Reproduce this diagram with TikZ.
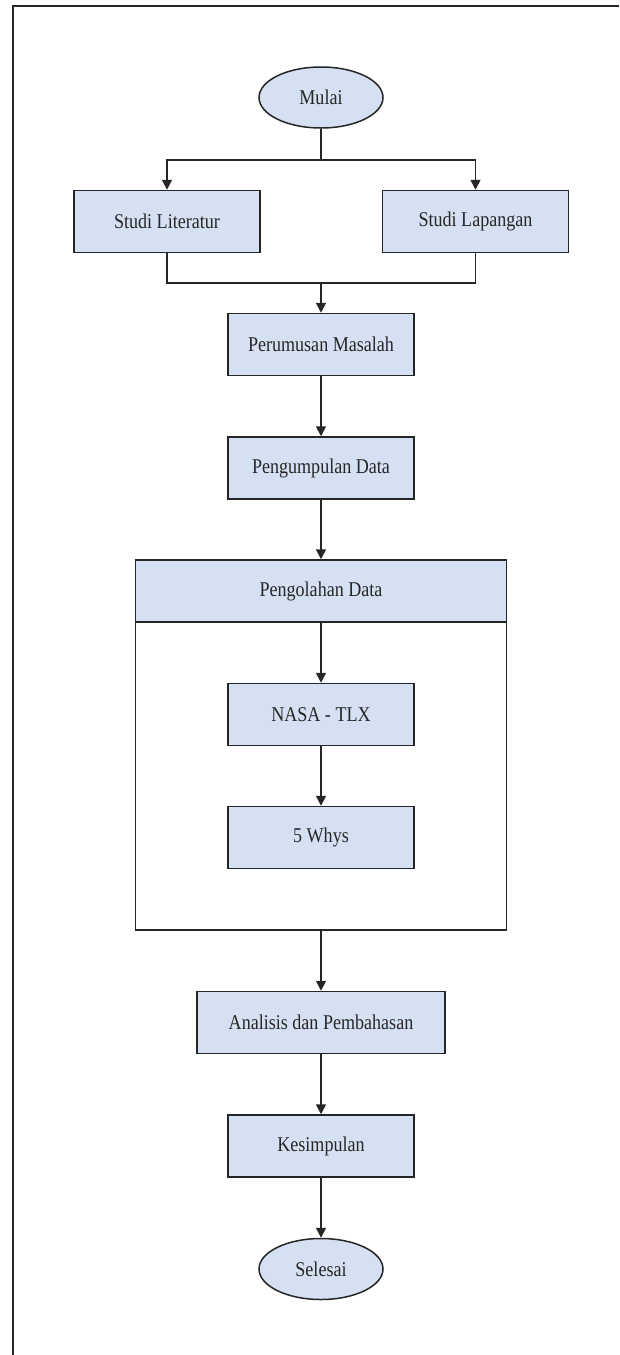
\documentclass[tikz,border=0pt]{standalone}
\usepackage{fontspec}
\setmainfont[FakeStretch=0.86]{Liberation Serif}
\usetikzlibrary{arrows.meta,shapes.geometric}
\definecolor{boxblue}{HTML}{D5E1F2}
\definecolor{lineclr}{HTML}{262626}

\begin{document}
\begin{tikzpicture}[
  x=1pt, y=-1pt,
  every node/.style={font=\fontsize{21}{25}\selectfont, text=black!85},
  process/.style={rectangle, draw=lineclr, line width=1.5pt, fill=boxblue,
    minimum width=186pt, minimum height=62pt, inner sep=0pt},
  terminal/.style={ellipse, draw=lineclr, line width=1.5pt, fill=boxblue,
    minimum width=124pt, minimum height=61pt, inner sep=0pt},
  flow/.style={draw=lineclr, line width=1.5pt, -{Triangle[length=10pt,width=10pt]}},
  link/.style={draw=lineclr, line width=1.5pt}
]
\useasboundingbox (0,0) rectangle (619,1355);
\draw[link] (13,1355) -- (13,6) -- (619,6);

% start
\node[terminal] (mulai) at (321,97.5) {Mulai};
\node[process] (lit) at (167,221.5) {Studi Literatur};
\node[process] (lap) at (475.5,221.5) {Studi Lapangan};
\node[process] (rumus) at (321,344.5) {Perumusan Masalah};
\node[process] (kumpul) at (321,468) {Pengumpulan Data};

% pengolahan data
\node[rectangle, draw=lineclr, line width=1.5pt, minimum width=371pt,
  minimum height=370pt, inner sep=0pt] (olah) at (321,745) {};
\node[process, minimum width=371pt] (olahhead) at (321,591) {Pengolahan Data};
\node[process] (nasa) at (321,714.5) {NASA - TLX};
\node[process] (whys) at (321,837.5) {5 Whys};

% akhir
\node[process, minimum width=248pt] (analisis) at (321,1022.5) {Analisis dan Pembahasan};
\node[process] (simpul) at (321,1146) {Kesimpulan};
\node[terminal] (selesai) at (321,1269) {Selesai};

\coordinate (split) at (321,160);
\coordinate (merge) at (321,283);
\draw[link] (mulai.south) -- (split);
\draw[flow] (split) -| (lit.north);
\draw[flow] (split) -| (lap.north);
\draw[link] (lit.south) |- (merge);
\draw[link] (lap.south) |- (merge);
\draw[flow] (merge) -- (rumus.north);
\draw[flow] (rumus) -- (kumpul);
\draw[flow] (kumpul) -- (olahhead);
\draw[flow] (olahhead) -- (nasa);
\draw[flow] (nasa) -- (whys);
\draw[flow] (olah.south) -- (analisis);
\draw[flow] (analisis) -- (simpul);
\draw[flow] (simpul) -- (selesai);
\end{tikzpicture}
\end{document}
